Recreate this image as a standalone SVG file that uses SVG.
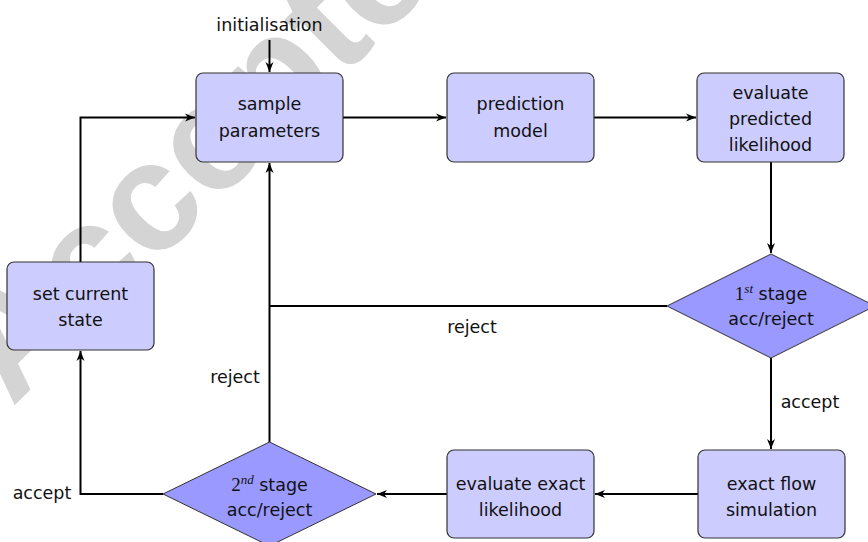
<svg xmlns="http://www.w3.org/2000/svg" width="868" height="542" viewBox="0 0 868 542">
<style>
.box{fill:#ccccff;stroke:#333;stroke-width:1.2}
.dia{fill:#9999ff;stroke:#333;stroke-width:1}
.t{font-family:"DejaVu Sans",sans-serif;font-size:17.5px;fill:#111;text-anchor:middle}
.m{font-family:"Liberation Serif",serif}
.c{fill:none;stroke:#000;stroke-width:2}
.wm{font-family:"Liberation Sans",Arial,sans-serif;font-weight:bold;font-size:155px;fill:#d4d4d4}
</style>
<defs>
<marker id="ar" markerUnits="userSpaceOnUse" markerWidth="12" markerHeight="10" viewBox="-10 -5 12 10" refX="0" refY="0" orient="auto">
<path d="M0,0 L-10,-4 L-7,0 L-10,4 Z" fill="#000"/>
</marker>
</defs>
<text class="wm" transform="translate(12,408) rotate(-45)">Accepted</text>
<g id="connectors">
<path class="c" d="M269.5,40 V72" marker-end="url(#ar)"/>
<path class="c" d="M80.5,262 V117.5 H195" marker-end="url(#ar)"/>
<path class="c" d="M343,117.5 H446" marker-end="url(#ar)"/>
<path class="c" d="M594,117.5 H696" marker-end="url(#ar)"/>
<path class="c" d="M771,162 V253" marker-end="url(#ar)"/>
<path class="c" d="M667,306 H269.5"/>
<path class="c" d="M269.5,442 V163" marker-end="url(#ar)"/>
<path class="c" d="M771,358 V449" marker-end="url(#ar)"/>
<path class="c" d="M698,494 H595" marker-end="url(#ar)"/>
<path class="c" d="M447,494 H377" marker-end="url(#ar)"/>
<path class="c" d="M163,494 H80.5 V351" marker-end="url(#ar)"/>
<text class="t" x="269.5" y="31">initialisation</text>
<text class="t" x="472" y="333">reject</text>
<text class="t" x="235" y="383">reject</text>
<text class="t" x="810" y="408">accept</text>
<text class="t" x="42" y="499">accept</text>
</g>
<g id="sample">
<rect class="box" x="196" y="73" width="147" height="89" rx="7"/>
<text class="t" x="269.5" y="110">sample</text>
<text class="t" x="269.5" y="137">parameters</text>
</g>
<g id="prediction">
<rect class="box" x="447" y="73" width="147" height="89" rx="7"/>
<text class="t" x="520.5" y="110">prediction</text>
<text class="t" x="520.5" y="137">model</text>
</g>
<g id="evalpred">
<rect class="box" x="697" y="73" width="147" height="89" rx="7"/>
<text class="t" x="770.5" y="99">evaluate</text>
<text class="t" x="770.5" y="125">predicted</text>
<text class="t" x="770.5" y="151">likelihood</text>
</g>
<g id="setstate">
<rect class="box" x="7" y="262" width="147" height="88" rx="7"/>
<text class="t" x="80.5" y="299.5">set current</text>
<text class="t" x="80.5" y="326">state</text>
</g>
<g id="stage1">
<polygon class="dia" points="771,254 875,306 771,358 667,306"/>
<text class="t" x="771" y="300"><tspan class="m" font-size="19">1</tspan><tspan class="m" font-style="italic" font-size="13" dy="-7">st</tspan><tspan dy="7"> stage</tspan></text>
<text class="t" x="771" y="325">acc/reject</text>
</g>
<g id="exactflow">
<rect class="box" x="698" y="450" width="147" height="88" rx="7"/>
<text class="t" x="771.5" y="490">exact flow</text>
<text class="t" x="771.5" y="516">simulation</text>
</g>
<g id="evalexact">
<rect class="box" x="447" y="450" width="147" height="88" rx="7"/>
<text class="t" x="520.5" y="490">evaluate exact</text>
<text class="t" x="520.5" y="516">likelihood</text>
</g>
<g id="stage2">
<polygon class="dia" points="269.5,442 376,494 269.5,546 163,494"/>
<text class="t" x="269.5" y="491"><tspan class="m" font-size="19">2</tspan><tspan class="m" font-style="italic" font-size="13" dy="-7">nd</tspan><tspan dy="7"> stage</tspan></text>
<text class="t" x="269.5" y="516">acc/reject</text>
</g>
</svg>
